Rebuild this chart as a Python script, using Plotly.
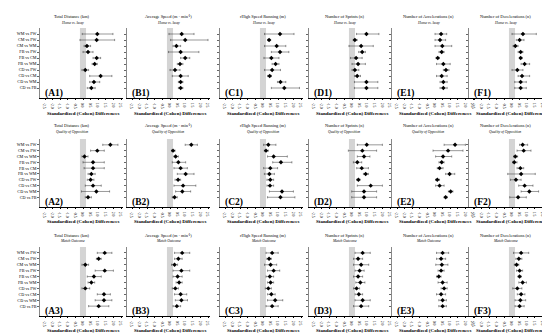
import plotly.graph_objects as go

categories = ["WM vs FW", "CM vs FW", "CM vs WM", "FB vs FW", "FB vs CM",
              "FB vs WM", "CD vs FW", "CD vs CM", "CD vs WM", "CD vs FB"]
metrics = ["Total Distance (km)", "Average Speed (m · min⁻¹)",
           "rHigh Speed Running (m)", "Number of Sprints (n)",
           "Number of Accelerations (n)", "Number of Decelerations (n)"]
contexts = ["Home vs Away", "Quality of Opposition", "Match Outcome"]
letters = ["A", "B", "C", "D", "E", "F"]
tick_vals = [-2.5, -2.0, -1.5, -1.0, -0.5, 0.0, 0.5, 1.0, 1.5, 2.0, 2.5]
tick_text = ["-2.5", "-2.0", "-1.5", "-1.0", "-0.5", "0.0", "0.5", "1.0", "1.5", "2.0", "2.5"]

# ---- Row 1: Home vs Away ----
A1_d = [0.94, 0.90, 0.26, 0.33, 0.90, 0.77, 0.15, 1.16, 0.72, 0.55]
A1_lo = [-0.05, -0.20, 0.07, 0.00, 0.66, 0.60, -0.07, 0.44, 0.44, 0.28]
A1_hi = [1.97, 2.08, 0.50, 0.66, 1.16, 0.94, 0.37, 1.90, 1.10, 0.80]
B1_d = [0.77, 1.00, 0.42, 0.70, 1.00, 0.66, 0.33, 0.70, 0.70, 0.70]
B1_lo = [-0.07, 0.04, 0.20, -0.10, 0.70, 0.48, 0.00, 0.15, 0.55, 0.55]
B1_hi = [1.58, 2.50, 0.70, 1.90, 1.30, 0.85, 0.66, 1.20, 0.85, 0.85]
C1_d = [1.12, 0.40, 0.90, 1.12, 0.55, 0.83, 0.60, 0.44, 1.15, 1.40]
C1_lo = [0.10, 0.30, 0.10, 0.55, 0.06, 0.60, 0.10, 0.30, 0.95, 0.55]
C1_hi = [2.04, 0.50, 1.50, 1.70, 1.05, 1.05, 1.15, 0.55, 1.50, 2.40]
D1_d = [0.95, 0.19, 0.60, 0.67, 0.27, 0.40, 0.19, 0.34, 0.95, 0.95]
D1_lo = [0.30, 0.08, -0.20, 0.44, -0.10, 0.00, 0.00, 0.16, 0.16, 0.16]
D1_hi = [1.77, 0.34, 1.40, 0.88, 0.67, 0.88, 0.45, 0.56, 1.70, 1.70]
E1_d = [0.40, 0.33, 0.48, 0.44, 0.18, 0.55, 0.72, 0.44, 0.55, 0.55]
E1_lo = [0.00, 0.00, 0.00, 0.26, 0.07, 0.10, 0.55, 0.10, 0.33, 0.33]
E1_hi = [0.77, 0.70, 1.10, 0.60, 0.28, 1.00, 0.92, 0.80, 0.80, 0.80]
F1_d = [0.72, 0.50, 0.22, 0.57, 0.57, 0.83, 0.35, 0.66, 0.57, 0.57]
F1_lo = [0.00, 0.28, 0.07, 0.40, 0.50, 0.60, 0.00, 0.40, 0.18, 0.18]
F1_hi = [1.60, 0.79, 0.40, 0.72, 0.66, 1.16, 0.72, 1.16, 0.94, 0.94]

# ---- Row 2: Quality of Opposition ----
A2_d = [1.80, 0.94, 0.10, 0.66, 0.66, 0.55, 0.50, 0.66, 0.88, 0.33]
A2_lo = [1.30, 0.50, -0.07, 0.00, 0.07, 0.33, 0.28, 0.15, -0.10, 0.15]
A2_hi = [2.30, 1.40, 0.33, 1.40, 1.40, 0.80, 0.72, 1.20, 1.75, 0.55]
B2_d = [1.40, 0.20, 0.37, 0.55, 0.70, 1.03, 0.53, 0.86, 0.81, 0.30]
B2_lo = [1.00, 0.10, 0.26, 0.15, 0.26, 0.48, 0.33, 0.26, 0.37, 0.15]
B2_hi = [1.80, 0.33, 0.55, 1.03, 1.14, 1.58, 0.70, 1.70, 1.36, 0.48]
C2_d = [0.35, 0.20, 0.70, 1.18, 0.48, 0.42, 0.48, 0.46, 1.25, 1.15]
C2_lo = [0.04, 0.09, 0.30, 0.64, 0.04, 0.09, 0.26, 0.26, 0.42, 0.30]
C2_hi = [0.85, 0.35, 1.60, 1.90, 0.96, 0.75, 0.70, 0.70, 2.00, 2.10]
D2_d = [0.97, 0.68, 0.79, 0.35, 0.64, 0.90, 0.42, 1.23, 0.79, 0.79]
D2_lo = [0.35, -0.24, 0.35, 0.09, 0.31, 0.75, 0.31, 0.35, -0.02, -0.02]
D2_hi = [2.00, 1.62, 1.18, 0.64, 1.08, 1.08, 0.53, 2.00, 1.62, 1.62]
E2_d = [1.32, 0.86, 0.53, 0.44, 0.30, 0.96, 0.15, 0.30, 1.03, 0.70]
E2_lo = [0.60, -0.13, 0.04, 0.26, 0.15, 0.70, 0.04, 0.04, 0.88, 0.60]
E2_hi = [2.00, 1.84, 1.10, 0.60, 0.53, 1.30, 0.30, 0.60, 1.18, 0.80]
F2_d = [0.70, 0.77, 0.22, 0.15, 0.55, 0.60, 0.26, 0.83, 1.14, 0.40]
F2_lo = [0.50, 0.33, 0.11, 0.04, 0.33, -0.28, -0.10, 0.44, 0.60, -0.15]
F2_hi = [1.03, 1.25, 0.37, 0.33, 0.77, 1.53, 0.60, 1.38, 1.75, 0.94]

# ---- Row 3: Match Outcome ----
A3_d = [1.43, 1.03, 0.15, 1.43, 0.72, 0.55, 0.15, 1.38, 1.38, 1.03]
A3_lo = [0.94, 0.88, -0.07, 0.80, 0.28, 0.33, -0.07, 0.94, 0.80, 0.37]
A3_hi = [1.90, 1.20, 0.37, 2.00, 1.20, 0.77, 0.44, 1.80, 1.90, 1.70]
B3_d = [0.80, 0.55, 0.30, 0.75, 0.50, 0.60, 0.35, 0.70, 0.75, 0.45]
B3_lo = [0.30, 0.30, 0.10, 0.20, 0.20, 0.40, 0.15, 0.30, 0.35, 0.20]
B3_hi = [1.30, 0.80, 0.50, 1.30, 0.80, 0.80, 0.55, 1.10, 1.15, 0.70]
C3_d = [0.60, 0.40, 0.50, 0.70, 0.45, 0.50, 0.35, 0.55, 0.80, 0.60]
C3_lo = [0.20, 0.25, 0.10, 0.30, 0.20, 0.30, 0.15, 0.30, 0.30, 0.20]
C3_hi = [1.00, 0.55, 0.90, 1.10, 0.70, 0.70, 0.55, 0.80, 1.30, 1.00]
D3_d = [0.70, 0.40, 0.60, 0.50, 0.40, 0.55, 0.30, 0.45, 0.70, 0.60]
D3_lo = [0.20, 0.10, 0.10, 0.20, 0.10, 0.25, 0.10, 0.20, 0.20, 0.10]
D3_hi = [1.20, 0.70, 1.10, 0.80, 0.70, 0.85, 0.50, 0.70, 1.20, 1.10]
E3_d = [0.50, 0.40, 0.45, 0.40, 0.25, 0.50, 0.60, 0.40, 0.50, 0.50]
E3_lo = [0.10, 0.10, 0.05, 0.20, 0.10, 0.20, 0.40, 0.10, 0.25, 0.25]
E3_hi = [0.90, 0.70, 0.85, 0.60, 0.40, 0.80, 0.80, 0.70, 0.75, 0.75]
F3_d = [0.60, 0.45, 0.30, 0.50, 0.50, 0.70, 0.35, 0.60, 0.55, 0.50]
F3_lo = [0.10, 0.25, 0.15, 0.30, 0.40, 0.45, 0.05, 0.35, 0.20, 0.20]
F3_hi = [1.10, 0.65, 0.45, 0.70, 0.60, 0.95, 0.65, 0.85, 0.90, 0.80]

panels = [
    [(A1_d, A1_lo, A1_hi), (B1_d, B1_lo, B1_hi), (C1_d, C1_lo, C1_hi),
     (D1_d, D1_lo, D1_hi), (E1_d, E1_lo, E1_hi), (F1_d, F1_lo, F1_hi)],
    [(A2_d, A2_lo, A2_hi), (B2_d, B2_lo, B2_hi), (C2_d, C2_lo, C2_hi),
     (D2_d, D2_lo, D2_hi), (E2_d, E2_lo, E2_hi), (F2_d, F2_lo, F2_hi)],
    [(A3_d, A3_lo, A3_hi), (B3_d, B3_lo, B3_hi), (C3_d, C3_lo, C3_hi),
     (D3_d, D3_lo, D3_hi), (E3_d, E3_lo, E3_hi), (F3_d, F3_lo, F3_hi)],
]

# ---- layout geometry (pixels) ----
W, H = 550, 333
zero_px = [75, 162, 255, 344, 427, 504]
title_px = [64, 160, 255, 336, 420, 497]
S = 15.2
XMIN, XMAX = -2.85, 2.65
YMIN, YMAX = -1.667, 10
row_top = [20, 131, 239]
row_axis = [90, 199, 308]
row_title = [9, 117.5, 227]
row_sub = [15, 123.5, 232.5]
row_xtitle = [106, 213, 322]
FONT = "Liberation Serif"

fig = go.Figure()
annotations = []
shapes = []
ypos = list(range(9, -1, -1))

for r in range(3):
    for c in range(6):
        k = r * 6 + c + 1
        xa = "x" if k == 1 else f"x{k}"
        ya = "y" if k == 1 else f"y{k}"
        d, lo, hi = panels[r][c]
        plus = [h - m for h, m in zip(hi, d)]
        minus = [m - l for m, l in zip(d, lo)]
        fig.add_trace(go.Scatter(
            x=d, y=ypos, mode="markers", xaxis=xa, yaxis=ya,
            marker=dict(symbol="diamond", size=3.4, color="black"),
            error_x=dict(type="data", symmetric=False, array=plus, arrayminus=minus,
                         color="#333", thickness=0.5, width=1.1),
            showlegend=False, hoverinfo="skip"))
        z = zero_px[c]
        T = row_top[r]
        A = row_axis[r]
        xdom = [(z + XMIN * S) / W, (z + XMAX * S) / W]
        ydom = [1 - A / H, 1 - T / H]
        fig.layout[f"xaxis{'' if k == 1 else k}"] = dict(
            domain=xdom, range=[XMIN, XMAX], anchor=ya,
            tickvals=tick_vals, ticktext=tick_text,
            tickfont=dict(size=3.6, family=FONT, color="black"),
            ticks="outside", ticklen=1.5, tickwidth=0.5, tickcolor="black",
            showline=True, linecolor="black", linewidth=0.6,
            showgrid=False, zeroline=False, fixedrange=True)
        fig.layout[f"yaxis{'' if k == 1 else k}"] = dict(
            domain=ydom, range=[YMIN, YMAX], anchor=xa,
            tickvals=ypos, ticktext=categories, showticklabels=(c == 0),
            tickfont=dict(size=4.2, family=FONT, color="black"),
            ticks="outside", ticklen=1.5, tickwidth=0.4, tickcolor="#666",
            showline=True, linecolor="#888", linewidth=0.5,
            showgrid=False, zeroline=False, fixedrange=True)
        shapes.append(dict(type="rect", xref=xa, yref=f"{ya} domain",
                           x0=-0.2, x1=0.2, y0=0, y1=1, layer="below",
                           fillcolor="#d4d4d4", line=dict(width=0)))
        annotations.append(dict(
            xref="paper", yref="paper", x=title_px[c] / W, y=1 - row_title[r] / H,
            text=metrics[c], showarrow=False, xanchor="center", yanchor="middle",
            font=dict(size=4.4, family=FONT, color="black")))
        annotations.append(dict(
            xref="paper", yref="paper", x=title_px[c] / W, y=1 - row_sub[r] / H,
            text=f"<i>{contexts[r]}</i>", showarrow=False, xanchor="center", yanchor="middle",
            font=dict(size=3.7, family=FONT, color="black")))
        annotations.append(dict(
            xref="paper", yref="paper", x=(z - 2.62 * S) / W, y=1 - (A - 5) / H,
            text=f"<b>({letters[c]}{r + 1})</b>", showarrow=False,
            xanchor="left", yanchor="middle",
            font=dict(size=9.5, family=FONT, color="black")))
        annotations.append(dict(
            xref="paper", yref="paper", x=z / W, y=1 - row_xtitle[r] / H,
            text="<b>Standardized (Cohen) Differences</b>", showarrow=False,
            xanchor="center", yanchor="middle",
            font=dict(size=5.0, family=FONT, color="black")))

fig.update_layout(
    width=W, height=H, margin=dict(l=0, r=0, t=0, b=0),
    paper_bgcolor="white", plot_bgcolor="white",
    annotations=annotations, shapes=shapes,
    font=dict(family=FONT, color="black"))

fig.write_html("out.html")
